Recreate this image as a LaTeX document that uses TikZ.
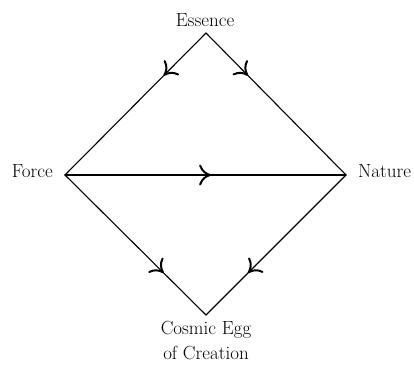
\documentclass[tikz,border=0pt]{standalone}
\usetikzlibrary{arrows.meta,decorations.markings}
\tikzset{
  lbl/.style={inner sep=0pt, font=\fontsize{19}{25}\selectfont},
  edge/.style={line width=1.1pt, line cap=round, line join=miter},
  tiphead/.tip={To[length=12pt,width=21pt,line width=2pt]},
  midarrow/.style={postaction={decorate}, decoration={markings,
      mark=at position #1 with {\arrow[line width=1.1pt]{tiphead}}}}
}
\begin{document}
\begin{tikzpicture}[x=1pt,y=1pt]
\useasboundingbox (0,0) rectangle (414,364);
\coordinate (E) at (206,331);
\coordinate (F) at (65,189);
\coordinate (N) at (346,189);
\coordinate (C) at (206,49);
\node[lbl, anchor=base] (essence) at (205,337) {Essence};
\node[lbl, anchor=base east] (force) at (53,186) {Force};
\node[lbl, anchor=base west] (nature) at (358,186) {Nature};
\node[lbl, anchor=north, align=center] (egg) at (206,43) {Cosmic Egg\\of Creation};
\draw[edge, midarrow=0.3] (E) -- (F);
\draw[edge, midarrow=0.3] (E) -- (N);
\draw[edge, midarrow=0.7] (F) -- (C);
\draw[edge, midarrow=0.7] (N) -- (C);
\draw[edge, midarrow=0.52] (F) -- (N);
\end{tikzpicture}
\end{document}
